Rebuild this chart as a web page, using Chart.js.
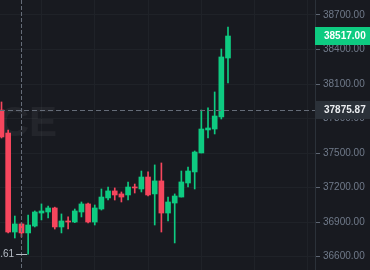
<!DOCTYPE html>
<html>
<head>
<meta charset="utf-8">
<script src="https://cdn.jsdelivr.net/npm/chart.js@4.4.1/dist/chart.umd.min.js"></script>
<style>
  html, body { margin: 0; padding: 0; background: #181a20; }
  canvas { display: block; }
</style>
</head>
<body>
<canvas id="chart" width="370" height="270"></canvas>
<script>
// candles, oldest first (price)
const opens  = [37874, 37674, 36814, 36884, 36806, 36866, 36979, 36988, 37023, 36858, 36910, 36901, 36988, 37058, 36901, 37014, 37110, 37171, 37145, 37136, 37205, 37188, 37292, 37145, 37258, 36979, 37066, 37118, 37240, 37336, 37501, 37701, 37709, 37814, 38326];
const closes = [37640, 36814, 36884, 36806, 36875, 36988, 36997, 37023, 36858, 36910, 36901, 36997, 37058, 36901, 37023, 37118, 37171, 37136, 37118, 37205, 37197, 37292, 37136, 37258, 36979, 37075, 37127, 37249, 37344, 37509, 37709, 37718, 37822, 38335, 38517];
const highs  = [37944, 37700, 36953, 36893, 36962, 36997, 37058, 37040, 37030, 36971, 36945, 37014, 37075, 37066, 37049, 37188, 37205, 37197, 37162, 37249, 37231, 37344, 37336, 37397, 37414, 37118, 37145, 37344, 37379, 37518, 37874, 37892, 38031, 38404, 38595];
const lows   = [37631, 36806, 36762, 36771, 36622.61, 36858, 36919, 36936, 36840, 36806, 36840, 36895, 36945, 36893, 36875, 37005, 37092, 37092, 37075, 37092, 37153, 37162, 37127, 36875, 36814, 36910, 36719, 37118, 37205, 37188, 37501, 37631, 37666, 37796, 38109];

const priceTicks = [36600, 36900, 37200, 37500, 37800, 38100, 38400, 38700];
const timeGrid = [2, 10, 18, 26, 34, 42];

const lastPrice = 38517.00;
const crossPrice = 37875.87;
const crossIndex = 3;
const lowIndex = 4;

const UP = '#0ecb81';
const DOWN = '#f6465d';
const colors = opens.map((o, i) => closes[i] >= o ? UP : DOWN);

const overlay = {
  id: 'overlay',
  beforeDraw(chart) {
    const ctx = chart.ctx;
    ctx.save();
    ctx.fillStyle = '#181a20';
    ctx.fillRect(0, 0, chart.width, chart.height);
    ctx.restore();
  },
  beforeDatasetsDraw(chart) {
    // faint watermark
    const ctx = chart.ctx;
    ctx.save();
    ctx.font = 'bold 42px "Liberation Sans", Arial, sans-serif';
    ctx.fillStyle = 'rgba(255,255,255,0.05)';
    ctx.textAlign = 'right';
    ctx.textBaseline = 'alphabetic';
    ctx.fillText('BINANCE', 57, 136);
    ctx.restore();
  },
  afterDraw(chart) {
    const { ctx, chartArea: a, scales: { x, y } } = chart;
    ctx.save();

    // crosshair
    ctx.strokeStyle = '#656c78';
    ctx.lineWidth = 1;
    const vx = Math.round(x.getPixelForValue(crossIndex)) + 0.5;
    ctx.setLineDash([4, 2]);
    ctx.beginPath();
    ctx.moveTo(vx, a.top);
    ctx.lineTo(vx, a.bottom);
    ctx.stroke();
    const hy = Math.round(y.getPixelForValue(crossPrice)) + 0.5;
    ctx.setLineDash([5, 3]);
    ctx.beginPath();
    ctx.moveTo(a.left, hy);
    ctx.lineTo(a.right, hy);
    ctx.stroke();
    ctx.setLineDash([]);

    // price tags on the axis
    function tag(price, bg, fg) {
      const py = Math.round(y.getPixelForValue(price));
      ctx.fillStyle = bg;
      ctx.fillRect(a.right, py - 9, chart.width - a.right, 18);
      ctx.fillStyle = fg;
      ctx.font = 'bold 10px "Liberation Sans", Arial, sans-serif';
      ctx.textAlign = 'left';
      ctx.textBaseline = 'middle';
      ctx.fillText(price.toFixed(2), a.right + 9, py + 0.5);
    }
    tag(lastPrice, UP, '#ffffff');
    tag(crossPrice, '#2b3139', '#eaecef');

    // lowest price marker
    const lx = x.getPixelForValue(lowIndex);
    const ly = Math.round(y.getPixelForValue(lows[lowIndex])) + 0.5;
    ctx.strokeStyle = '#b7bdc6';
    ctx.beginPath();
    ctx.moveTo(lx - 12, ly);
    ctx.lineTo(lx - 1, ly);
    ctx.stroke();
    ctx.fillStyle = '#b7bdc6';
    ctx.font = '10px "Liberation Sans", Arial, sans-serif';
    ctx.textAlign = 'right';
    ctx.textBaseline = 'middle';
    ctx.fillText(lows[lowIndex].toFixed(2), lx - 14, ly);

    ctx.restore();
  }
};

const ctx = document.getElementById('chart').getContext('2d');
const myChart = new Chart(ctx, {
  type: 'bar',
  data: {
    datasets: [{
      label: 'body',
      data: opens.map((o, i) => ({ x: i, y: [o, closes[i]] })),
      backgroundColor: colors,
      barThickness: 5,
      minBarLength: 1,
      grouped: false
    }, {
      label: 'wick',
      data: lows.map((l, i) => ({ x: i, y: [l, highs[i]] })),
      backgroundColor: colors,
      barThickness: 1,
      grouped: false
    }]
  },
  options: {
    responsive: false,
    animation: false,
    devicePixelRatio: 1,
    layout: { padding: 0 },
    plugins: { legend: { display: false }, tooltip: { enabled: false } },
    scales: {
      x: {
        type: 'linear',
        min: -0.225,
        max: 47.06,
        offset: false,
        ticks: { display: false },
        border: { display: false },
        grid: { color: '#1f2228', drawTicks: false },
        afterBuildTicks: s => { s.ticks = timeGrid.map(v => ({ value: v })); },
        afterFit: s => { s.height = 0; s.paddingLeft = 0; s.paddingRight = 0; }
      },
      y: {
        position: 'right',
        min: 36484,
        max: 38830,
        border: { display: true, color: '#2b3139' },
        grid: { color: '#1f2228', tickColor: '#5e6673', tickLength: 5 },
        ticks: {
          color: '#707a8a',
          padding: 3,
          font: { size: 10, family: '"Liberation Sans", Arial, sans-serif' },
          callback: v => Number(v).toFixed(2)
        },
        afterBuildTicks: s => { s.ticks = priceTicks.map(v => ({ value: v })); },
        afterFit: s => { s.width = 55; s.paddingTop = 0; s.paddingBottom = 0; }
      }
    }
  },
  plugins: [overlay]
});
</script>
</body>
</html>
